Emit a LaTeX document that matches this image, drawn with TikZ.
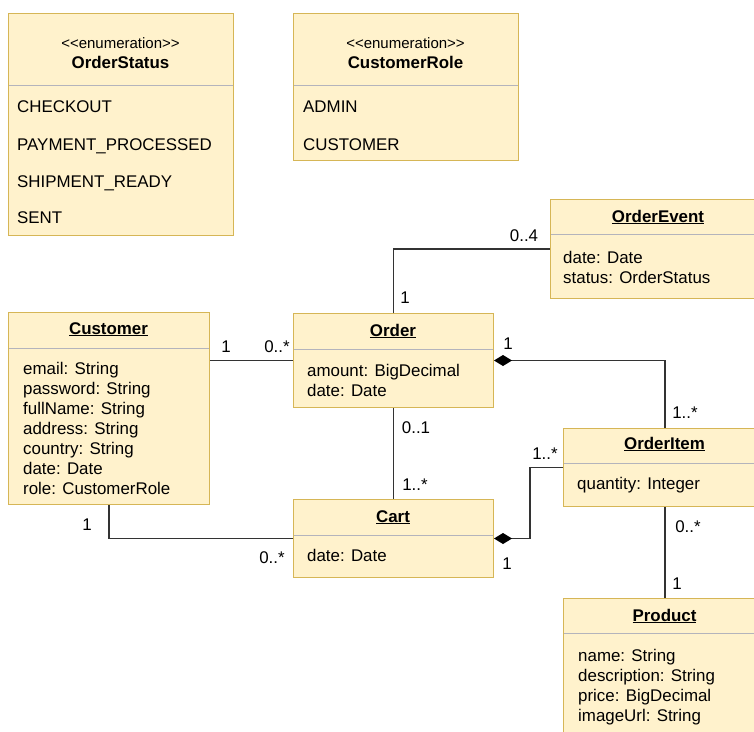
\documentclass[tikz,border=0pt]{standalone}
\usepackage{fontspec}
\setmainfont{Liberation Sans}
\usetikzlibrary{arrows.meta}
\definecolor{boxfill}{HTML}{FFF2CC}
\definecolor{boxline}{HTML}{D6B656}
\definecolor{divline}{HTML}{B4B4BC}
\definecolor{wirecol}{HTML}{333333}
\begin{document}
\begin{tikzpicture}[x=1pt,y=-1pt,
  umlbox/.style={draw=boxline,fill=boxfill,line width=1pt,anchor=north west,inner sep=0pt},
  divider/.style={draw=divline,line width=1pt},
  txt/.style={font=\fontsize{16.9}{20}\selectfont,inner sep=0pt,anchor=base west},
  attrs/.style={font=\fontsize{16.9}{20}\selectfont,inner sep=0pt,anchor=north west,align=left},
  title/.style={font=\fontsize{16.9}{20}\selectfont\bfseries,inner sep=0pt,anchor=base},
  stereo/.style={font=\fontsize{15}{17}\selectfont,inner sep=0pt,anchor=base},
  mult/.style={font=\fontsize{16.9}{20}\selectfont,inner sep=0pt,anchor=base},
  wire/.style={draw=wirecol,line width=1.2pt},
  comp/.style={wire,{Diamond[length=18pt,width=11pt,color=black]}-}]
\useasboundingbox (0,0) rectangle (754,731);
\clip (0,0) rectangle (754,731);
% class boxes
\node[umlbox,minimum width=225pt,minimum height=222pt] (status) at (8,13) {};
\node[umlbox,minimum width=225pt,minimum height=147pt] (role) at (293,13) {};
\node[umlbox,minimum width=216pt,minimum height=99pt] (event) at (550,199) {};
\node[umlbox,minimum width=201pt,minimum height=192pt] (customer) at (8,312) {};
\node[umlbox,minimum width=200pt,minimum height=94pt] (order) at (293,313) {};
\node[umlbox,minimum width=200pt,minimum height=78pt] (cart) at (293,499) {};
\node[umlbox,minimum width=203pt,minimum height=78pt] (item) at (563,428) {};
\node[umlbox,minimum width=203pt,minimum height=150pt] (product) at (563,598) {};
% header dividers
\draw[divider] (8.5,85) -- (232.5,85);
\draw[divider] (293.5,85) -- (517.5,85);
\draw[divider] (550.5,234) -- (766,234);
\draw[divider] (8.5,348) -- (208.5,348);
\draw[divider] (293.5,349) -- (492.5,349);
\draw[divider] (293.5,535) -- (492.5,535);
\draw[divider] (563.5,463) -- (766,463);
\draw[divider] (563.5,633) -- (766,633);
% enumerations
\node[stereo] (status-st) at (120.5,48) {<\kern0pt<enumeration>\kern0pt>};
\node[title] (status-t) at (120.5,68) {OrderStatus};
\node[txt] (status-1) at (17,112) {CHECKOUT};
\node[txt] (status-2) at (17,150) {PAYMENT\_PROCESSED};
\node[txt] (status-3) at (17,187) {SHIPMENT\_READY};
\node[txt] (status-4) at (17,223) {SENT};
\node[stereo] (role-st) at (405.5,48) {<\kern0pt<enumeration>\kern0pt>};
\node[title] (role-t) at (405.5,68) {CustomerRole};
\node[txt] (role-1) at (303,112) {ADMIN};
\node[txt] (role-2) at (303,150) {CUSTOMER};
% classes
\node[title] (event-t) at (658,222) {\underline{OrderEvent}};
\node[attrs] (event-a) at (563,251) {date: Date\\status: OrderStatus};
\node[title] (customer-t) at (108.5,334) {\underline{Customer}};
\node[attrs] (customer-a) at (23,362) {email: String\\password: String\\fullName: String\\address: String\\country: String\\date: Date\\role: CustomerRole};
\node[title] (order-t) at (393,336) {\underline{Order}};
\node[attrs] (order-a) at (307,364) {amount: BigDecimal\\date: Date};
\node[title] (cart-t) at (393,522) {\underline{Cart}};
\node[attrs] (cart-a) at (307,549) {date: Date};
\node[title] (item-t) at (664.5,449) {\underline{OrderItem}};
\node[attrs] (item-a) at (577,477) {quantity: Integer};
\node[title] (product-t) at (664.5,621) {\underline{Product}};
\node[attrs] (product-a) at (578,649) {name: String\\description: String\\price: BigDecimal\\imageUrl: String};
% associations
\draw[wire] (order.north) |- (event.west);
\draw[wire] (customer.east |- order.west) -- (order.west);
\draw[comp] (order.east) -| (item.north);
\draw[wire] (order.south) -- (cart.north);
\draw[wire] (customer.south) |- (cart.west);
\draw[comp] (cart.east) -- ++(36,0) |- (item.west);
\draw[wire] (item.south) -- (product.north);
% multiplicities
\node[mult] (m-event) at (524,241) {0..4};
\node[mult] (m-order-up) at (405,303) {1};
\node[mult] (m-cust-r) at (226,352) {1};
\node[mult] (m-order-l) at (277,352) {0..*};
\node[mult] (m-order-r) at (508,349) {1};
\node[mult] (m-item-up) at (685,418) {1..*};
\node[mult] (m-order-dn) at (416,433) {0..1};
\node[mult] (m-cart-up) at (415,490) {1..*};
\node[mult] (m-cust-dn) at (87,530) {1};
\node[mult] (m-cart-l) at (272,563) {0..*};
\node[mult] (m-item-l) at (545,459) {1..*};
\node[mult] (m-cart-r) at (507,569) {1};
\node[mult] (m-item-dn) at (688,532) {0..*};
\node[mult] (m-product) at (677,589) {1};
\end{tikzpicture}
\end{document}
